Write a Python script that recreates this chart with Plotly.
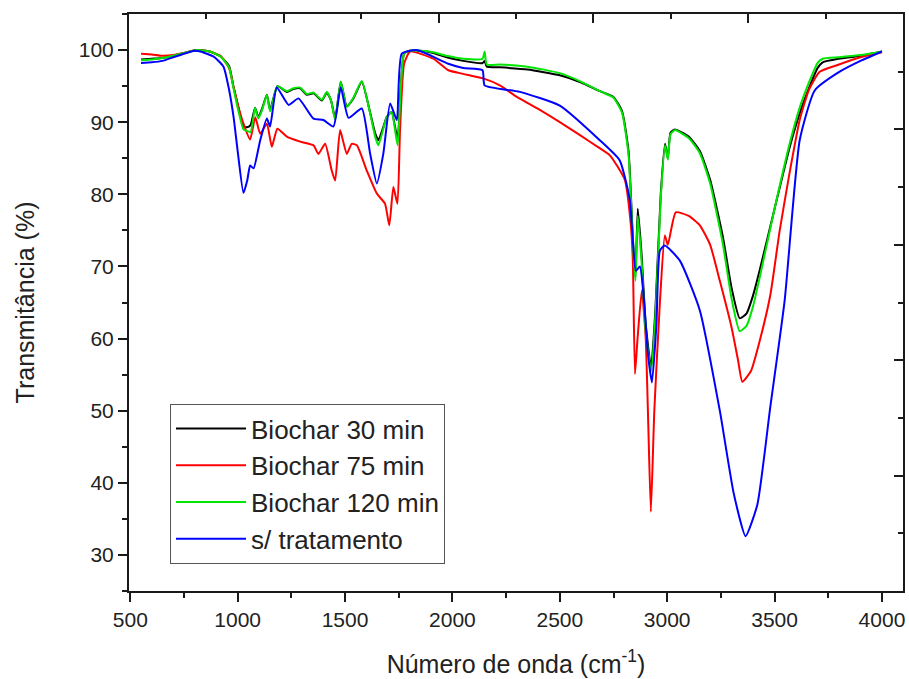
import plotly.graph_objects as go

# FTIR spectra (wavenumber in cm-1, transmittance in %)
wn30 = [550, 600, 650, 700, 750, 810, 870, 920, 960, 980, 1000, 1027, 1043, 1060, 1081, 1096, 1115, 1136, 1151,
        1185, 1229, 1260, 1291, 1322, 1353, 1392, 1415, 1435, 1454, 1480, 1508, 1539, 1578, 1617, 1640, 1655, 1680,
        1694, 1717, 1735, 1745, 1760, 1775, 1800, 1850, 1911, 1973, 2050, 2140, 2150, 2160, 2221, 2350, 2500, 2600,
        2686, 2750, 2790, 2820, 2840, 2852, 2863, 2880, 2900, 2925, 2945, 2970, 2990, 3003, 3015, 3036, 3100, 3152,
        3200, 3260, 3300, 3338, 3370, 3400, 3431, 3500, 3570, 3620, 3664, 3700, 3724, 3800, 3900, 4000]
t30 = [98.7, 98.8, 98.9, 99.2, 99.6, 100, 99.8, 99.1, 97.8, 95.0, 92.5, 89.4, 89.3, 89.6, 92.0, 90.7, 92.0, 93.8, 91.7,
       95.0, 94.2, 94.6, 94.7, 93.8, 94.0, 93.0, 94.1, 93.0, 90.5, 95.6, 92.2, 93.3, 95.6, 91.3, 88.5, 87.5, 89.5,
       90.7, 91.4, 89.0, 87.5, 95.0, 99.5, 99.9, 99.9, 99.6, 99.0, 98.5, 98.2, 98.5, 97.7, 97.6, 97.3, 96.5, 95.5,
       94.3, 93.5, 91.5, 86.0, 74.0, 68.5, 78.0, 72.0, 62.0, 56.0, 64.0, 80.0, 87.0, 85.0, 88.5, 89.0, 88.0, 86.0,
       82.0, 74.0, 67.0, 62.8, 63.5, 66.0, 69.5, 78.0, 86.5, 91.5, 95.0, 97.5, 98.3, 98.8, 99.2, 99.8]

wn75 = [550, 600, 650, 700, 750, 810, 870, 920, 960, 980, 1000, 1027, 1058, 1082, 1105, 1136, 1159, 1185, 1229, 1291,
        1353, 1376, 1407, 1438, 1454, 1477, 1508, 1531, 1555, 1601, 1648, 1686, 1706, 1725, 1744, 1756, 1775, 1803,
        1911, 1981, 2050, 2150, 2221, 2300, 2407, 2500, 2594, 2680, 2733, 2803, 2830, 2840, 2850, 2862, 2882, 2900,
        2912, 2924, 2940, 2966, 2989, 3003, 3040, 3100, 3152, 3200, 3245, 3300, 3330, 3350, 3390, 3431, 3480, 3524,
        3570, 3617, 3660, 3710, 3800, 3900, 4000]
t75 = [99.5, 99.4, 99.2, 99.3, 99.6, 100, 99.8, 99.2, 97.5, 95.0, 92.5, 89.8, 87.6, 90.7, 88.4, 89.8, 86.6, 89.1, 88.0,
       87.3, 86.8, 85.6, 87.0, 83.3, 81.9, 88.9, 85.6, 87.0, 86.8, 83.3, 80.1, 78.7, 75.7, 81.0, 78.7, 88.9, 98.1,
       99.8, 98.8, 97.2, 96.7, 96.0, 95.1, 93.5, 91.7, 90.0, 88.2, 86.5, 85.4, 82.0, 76.0, 70.8, 55.1, 60.0, 66.7,
       60.0, 48.0, 36.0, 50.0, 65.0, 74.3, 73.0, 77.5, 77.0, 75.7, 73.0, 68.0, 61.5, 57.0, 54.0, 55.5, 59.7, 66.0,
       75.0, 83.0, 90.3, 94.5, 97.0, 98.0, 99.0, 99.7]

wn120 = wn30
t120 = [98.6, 98.7, 98.9, 99.2, 99.6, 100, 99.8, 99.1, 97.6, 94.8, 92.0, 89.0, 88.8, 88.6, 92.0, 90.5, 91.8, 93.8, 91.5,
        95.0, 94.3, 94.7, 94.8, 93.9, 94.1, 93.1, 94.2, 93.0, 90.3, 95.6, 92.1, 93.4, 95.7, 91.2, 88.0, 86.8, 89.3,
        90.7, 91.4, 88.5, 86.8, 95.0, 99.5, 99.9, 99.9, 99.7, 99.2, 98.8, 98.8, 99.8, 98.0, 98.0, 97.7, 96.8, 95.6,
        94.3, 93.4, 91.3, 85.5, 73.5, 68.0, 77.0, 71.0, 61.0, 55.5, 63.0, 79.5, 86.8, 84.8, 88.3, 88.9, 87.8, 85.7,
        81.5, 73.0, 65.5, 61.0, 61.8, 64.5, 68.5, 78.0, 87.0, 92.3, 95.8, 98.2, 98.8, 99.0, 99.3, 99.8]

wnRaw = [550, 600, 650, 700, 750, 800, 826, 888, 934, 960, 981, 1000, 1027, 1045, 1058, 1074, 1105, 1136, 1151, 1182,
         1237, 1283, 1353, 1399, 1446, 1480, 1516, 1578, 1617, 1648, 1678, 1710, 1741, 1764, 1834, 1981, 2050, 2140,
         2150, 2314, 2500, 2686, 2779, 2826, 2854, 2873, 2890, 2910, 2929, 2950, 2966, 2989, 3059, 3152, 3245, 3310,
         3365, 3420, 3480, 3547, 3617, 3687, 3803, 3900, 4000]
tRaw = [98.2, 98.3, 98.5, 99.0, 99.5, 99.9, 99.8, 99.1, 97.7, 94.5, 90.7, 86.0, 80.2, 82.0, 84.0, 83.6, 87.5, 90.5, 89.4,
        94.8, 92.4, 93.3, 90.5, 90.3, 89.4, 94.8, 90.6, 91.9, 85.6, 81.5, 85.6, 92.6, 90.3, 99.5, 100, 98.1, 97.5, 97.2,
        95.1, 94.2, 92.3, 87.5, 84.7, 79.2, 69.4, 70.0, 66.0, 58.0, 53.9, 62.0, 72.2, 72.9, 70.8, 63.9, 50.0, 38.5,
        32.6, 37.0, 50.5, 65.3, 87.5, 94.4, 97.0, 98.5, 99.8]

seriesNames = ["Biochar 30 min", "Biochar 75 min", "Biochar 120 min", "s/ tratamento"]
seriesColors = ["#000000", "#ff0000", "#00e600", "#0000ff"]
xTicks = [500, 1000, 1500, 2000, 2500, 3000, 3500, 4000]
yTicks = [30, 40, 50, 60, 70, 80, 90, 100]

fontName = "Arial, Liberation Sans, sans-serif"
axisCol = "#1a1a1a"

fig = go.Figure()
allX = [wn30, wn75, wn120, wnRaw]
allY = [t30, t75, t120, tRaw]
for i in range(4):
    fig.add_trace(go.Scatter(x=allX[i], y=allY[i], mode='lines', name=seriesNames[i],
                             line=dict(color=seriesColors[i], width=2, shape='spline', smoothing=0.5)))

# invisible helper so the top/right frame axes get drawn
fig.add_trace(go.Scatter(x=[0], y=[0], xaxis='x2', yaxis='y2', mode='markers',
                         marker=dict(opacity=0), showlegend=False, hoverinfo='skip'))

frameAxis = dict(range=[0, 5], tickmode='array', tickvals=[1, 2, 3, 4],
                 ticks='inside', ticklen=9, tickwidth=2, tickcolor=axisCol,
                 minor=dict(ticks='inside', ticklen=5, tickwidth=2, tickcolor=axisCol,
                            tickvals=[0.5, 1.5, 2.5, 3.5, 4.5]),
                 showticklabels=False, showline=True, linewidth=2, linecolor=axisCol,
                 showgrid=False, zeroline=False, automargin=False, fixedrange=True)

fig.update_layout(
    width=909, height=679,
    margin=dict(l=129, r=6, t=14, b=88, autoexpand=False),
    paper_bgcolor="white", plot_bgcolor="white",
    font=dict(family=fontName, color="#222222", size=21),
    showlegend=True,
    legend=dict(x=0.053, y=0.324, xanchor='left', yanchor='top',
                bordercolor="#555555", borderwidth=1, bgcolor="white",
                font=dict(size=26), itemwidth=70, tracegroupgap=0),
    xaxis=dict(range=[494, 4098], tickmode='array', tickvals=xTicks,
               ticks='outside', ticklen=9, tickwidth=2, tickcolor=axisCol,
               minor=dict(ticks='outside', ticklen=5, tickwidth=2, tickcolor=axisCol, dtick=250, tick0=500),
               showline=True, linewidth=2, linecolor=axisCol, showgrid=False, zeroline=False,
               tickfont=dict(size=21), automargin=False,
               title=dict(text="Número de onda (cm<sup>-1</sup>)", font=dict(size=25), standoff=25)),
    yaxis=dict(range=[25, 105], tickmode='array', tickvals=yTicks,
               ticks='outside', ticklen=9, tickwidth=2, tickcolor=axisCol,
               minor=dict(ticks='outside', ticklen=5, tickwidth=2, tickcolor=axisCol, dtick=5, tick0=0),
               showline=True, linewidth=2, linecolor=axisCol, showgrid=False, zeroline=False,
               tickfont=dict(size=21), automargin=False,
               title=dict(text="Transmitância (%)", font=dict(size=25), standoff=37)),
    xaxis2=dict(frameAxis, overlaying='x', side='top', anchor='y2'),
    yaxis2=dict(frameAxis, overlaying='y', side='right', anchor='x2'),
)

# page body has an 8px default margin which pushes the figure off the window
fig.write_html("out.html", config={'displayModeBar': False},
               post_script="document.body.style.margin='0';")
